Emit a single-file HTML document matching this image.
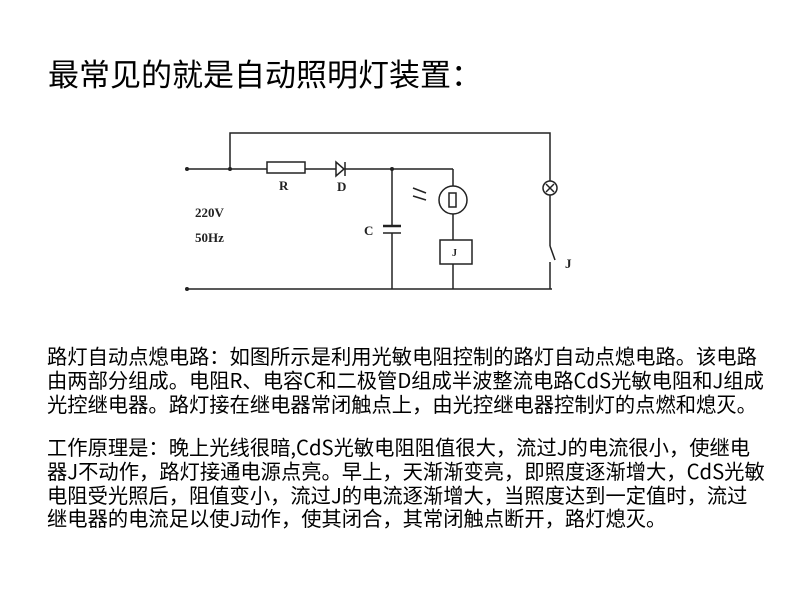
<!DOCTYPE html>
<html><head><meta charset="utf-8"><style>
body{margin:0;width:800px;height:600px;background:#fff;overflow:hidden;position:relative;font-family:"WenQuanYi Zen Hei","Noto Sans CJK SC",sans-serif;color:#000}
.t{position:absolute;left:48px;top:50px;font-size:31px;white-space:nowrap}
.p{position:absolute;left:47px;font-size:20.3px;line-height:23.8px;white-space:nowrap}
svg{position:absolute;left:0;top:0}
</style></head><body>
<div class="t">最常见的就是自动照明灯装置：</div>
<svg width="800" height="600" font-family="Liberation Serif,serif" font-weight="bold">
<g stroke="#222" stroke-width="1.5" fill="none">
<polyline points="230,169 230,133 550,133 550,181"/>
<line x1="187" y1="169" x2="267" y2="169"/>
<rect x="267" y="162" width="38" height="11" fill="#fff"/>
<line x1="305" y1="169" x2="336" y2="169"/>
<polygon points="336,162 336,176 344,169" fill="#fff"/>
<line x1="345" y1="162" x2="345" y2="176"/>
<line x1="345" y1="169" x2="453" y2="169"/>
<line x1="392" y1="169" x2="392" y2="226"/>
<line x1="383" y1="226" x2="401" y2="226" stroke-width="2.5"/>
<line x1="383" y1="233" x2="401" y2="233"/>
<line x1="392" y1="233" x2="392" y2="289"/>
<line x1="453" y1="169" x2="453" y2="186"/>
<circle cx="453" cy="200" r="14"/>
<rect x="449" y="193" width="7" height="14"/>
<line x1="453" y1="214" x2="453" y2="240"/>
<rect x="440" y="240" width="32" height="24"/>
<line x1="453" y1="264" x2="453" y2="289"/>
<line x1="413" y1="188" x2="426" y2="193"/>
<line x1="413" y1="196" x2="426" y2="200"/>
<circle cx="550" cy="188" r="7"/>
<line x1="546" y1="184" x2="554" y2="192"/><line x1="554" y1="184" x2="546" y2="192"/>
<line x1="550" y1="195" x2="550" y2="246"/>
<line x1="550" y1="246" x2="555" y2="260"/>
<line x1="550" y1="262" x2="550" y2="289"/>
<line x1="187" y1="289" x2="552" y2="289"/>
</g>
<circle cx="187" cy="169" r="2" fill="#222"/><circle cx="187" cy="289" r="2" fill="#222"/>
<circle cx="230" cy="169" r="2" fill="#222"/><circle cx="392" cy="169" r="2" fill="#222"/>
<g font-size="13" fill="#222">
<text x="279" y="190">R</text><text x="337" y="191">D</text>
<text x="195" y="217">220V</text><text x="195" y="242">50Hz</text>
<text x="364" y="235">C</text><text x="452" y="256" font-size="10">J</text><text x="565" y="268">J</text>
</g>
</svg>
<div class="p" style="top:344px">路灯自动点熄电路：如图所示是利用光敏电阻控制的路灯自动点熄电路。该电路<br>由两部分组成。电阻R、电容C和二极管D组成半波整流电路CdS光敏电阻和J组成<br>光控继电器。路灯接在继电器常闭触点上，由光控继电器控制灯的点燃和熄灭。</div>
<div class="p" style="top:435px">工作原理是：晚上光线很暗,CdS光敏电阻阻值很大，流过J的电流很小，使继电<br>器J不动作，路灯接通电源点亮。早上，天渐渐变亮，即照度逐渐增大，CdS光敏<br>电阻受光照后，阻值变小，流过J的电流逐渐增大，当照度达到一定值时，流过<br>继电器的电流足以使J动作，使其闭合，其常闭触点断开，路灯熄灭。</div>
</body></html>
